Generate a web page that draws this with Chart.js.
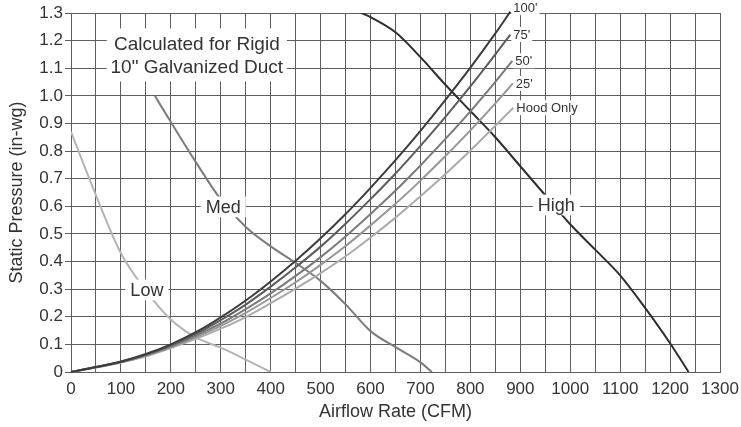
<!DOCTYPE html>
<html>
<head>
<meta charset="utf-8">
<script src="https://cdn.jsdelivr.net/npm/chart.js@4/dist/chart.umd.min.js"></script>
<style>
  html, body { margin: 0; padding: 0; background: #fff; }
  #wrap { width: 741px; height: 427px; }
</style>
</head>
<body>
<div id="wrap"><canvas id="c" width="741" height="427"></canvas></div>
<script>
// ---- Data ----
const ductCfm = [0,50,100,150,200,250,300,350,400,450,500,550,600,650,700,750,800,850];
const duct100 = [0,0.018,0.038,0.065,0.100,0.144,0.198,0.259,0.328,0.403,0.484,0.572,0.667,0.767,0.873,0.985,1.102,1.226];
const duct75  = [0,0.018,0.037,0.063,0.097,0.138,0.188,0.244,0.309,0.379,0.454,0.537,0.626,0.719,0.819,0.924,1.034,1.150];
const duct50  = [0,0.017,0.036,0.061,0.093,0.132,0.176,0.228,0.285,0.348,0.416,0.491,0.572,0.657,0.748,0.844,0.944,1.051];
const duct25  = [0,0.017,0.035,0.059,0.090,0.126,0.167,0.214,0.268,0.325,0.388,0.456,0.531,0.609,0.693,0.782,0.875,0.973];
const ductHood= [0,0.016,0.034,0.057,0.087,0.120,0.157,0.199,0.249,0.302,0.358,0.419,0.487,0.559,0.636,0.717,0.802,0.892];
const ductEndCfm = [880, 880, 884, 885, 886];
const ductEndVal = [1.305, 1.222, 1.127, 1.045, 0.957];
const ductNames = ["100'", "75'", "50'", "25'", "Hood Only"];

const lowCfm  = [0,50,100,150,200,250,300,350,400];
const lowVal  = [0.87,0.64,0.43,0.295,0.19,0.125,0.088,0.045,0];
const medCfm  = [168,200,250,300,350,400,450,500,550,600,650,700,723];
const medVal  = [1.0,0.905,0.76,0.625,0.525,0.455,0.395,0.33,0.245,0.148,0.09,0.035,0];
const highCfm = [582,600,650,700,750,800,850,900,950,1000,1050,1100,1150,1200,1237];
const highVal = [1.30,1.285,1.23,1.14,1.04,0.945,0.85,0.745,0.64,0.535,0.443,0.35,0.232,0.104,0];

const xTicks = [0,100,200,300,400,500,600,700,800,900,1000,1100,1200,1300];
const yTicks = ['0','0.1','0.2','0.3','0.4','0.5','0.6','0.7','0.8','0.9','1.0','1.1','1.2','1.3'];
const fanNames = ['Low', 'Med', 'High'];

// ---- Styles / label anchors ----
const ductColors = ['#3c3c3c', '#5c5c5c', '#7a7a7a', '#969696', '#ababab'];
const fanColors = ['#b4b4b4', '#7c7c7c', '#2f2f2f'];
const fanLabelAt = [[152, 0.297], [305, 0.598], [972, 0.605]];
const TXT = '#333';
const FONT = '"Liberation Sans", Arial, Helvetica, sans-serif';

function pts(xs, ys) { return xs.map((x, i) => ({ x: x, y: ys[i] })); }

const ductSeries = [duct100, duct75, duct50, duct25, ductHood];
const datasets = [];
ductSeries.forEach((vals, i) => {
  datasets.push({
    label: ductNames[i],
    data: pts(ductCfm.concat([ductEndCfm[i]]), vals.concat([ductEndVal[i]])),
    borderColor: ductColors[i], borderWidth: 2, pointRadius: 0,
    cubicInterpolationMode: 'monotone', clip: false
  });
});
[[lowCfm, lowVal], [medCfm, medVal], [highCfm, highVal]].forEach((s, i) => {
  datasets.push({
    label: fanNames[i],
    data: pts(s[0], s[1]),
    borderColor: fanColors[i], borderWidth: 2, pointRadius: 0,
    cubicInterpolationMode: 'monotone'
  });
});

const labelPlugin = {
  id: 'labels',
  afterDatasetsDraw(chart) {
    const { ctx, scales: { x, y } } = chart;
    ctx.save();
    ctx.textBaseline = 'middle';
    function box(text, px, py, size, align, padX) {
      ctx.font = size + 'px ' + FONT;
      const w = ctx.measureText(text).width;
      const h = size * 1.15;
      let left = align === 'left' ? px : px - w / 2 - padX;
      ctx.fillStyle = '#fff';
      ctx.fillRect(left, py - h / 2, w + 2 * padX, h);
      ctx.fillStyle = TXT;
      ctx.textAlign = 'left';
      ctx.fillText(text, left + padX, py + 1);
    }
    // duct labels at the end of each curve
    ductNames.forEach((n, i) => {
      const px = x.getPixelForValue(ductEndCfm[i]);
      let py = y.getPixelForValue(ductEndVal[i]);
      if (i === 0) py -= 4;
      box(n, px + 1, py, 13, 'left', 2);
    });
    // fan curve labels
    fanNames.forEach((n, i) => {
      box(n, x.getPixelForValue(fanLabelAt[i][0]), y.getPixelForValue(fanLabelAt[i][1]), 18, 'center', 5);
    });
    // annotation box
    const cx = x.getPixelForValue(252), cy = y.getPixelForValue(1.15);
    ctx.fillStyle = '#fff';
    ctx.fillRect(cx - 90, cy - 26, 180, 53);
    ctx.fillStyle = TXT;
    ctx.textAlign = 'center';
    ctx.font = '19px ' + FONT;
    ctx.fillText('Calculated for Rigid', cx, cy - 10);
    ctx.fillText('10" Galvanized Duct', cx, cy + 13);
    ctx.restore();
  }
};

const GRID = '#5e5e5e';
new Chart(document.getElementById('c'), {
  type: 'line',
  data: { datasets: datasets },
  plugins: [labelPlugin],
  options: {
    responsive: false,
    animation: false,
    layout: { padding: { top: 13, right: 21, left: 0, bottom: 0 } },
    plugins: { legend: { display: false }, tooltip: { enabled: false } },
    scales: {
      x: {
        type: 'linear', min: 0, max: 1300,
        afterBuildTicks(s) { s.ticks = []; for (let v = 0; v <= 1300; v += 50) s.ticks.push({ value: v }); },
        afterFit(s) { s.height = 55; s.paddingRight = 0; s.paddingLeft = 0; },
        ticks: {
          autoSkip: false, maxRotation: 0, minRotation: 0, padding: 7,
          color: TXT, font: { family: FONT, size: 17 },
          callback(v) { const k = xTicks.indexOf(v); return k >= 0 ? String(xTicks[k]) : ''; }
        },
        grid: { color: GRID, lineWidth: 1, drawTicks: false },
        border: { color: GRID },
        title: { display: true, text: 'Airflow Rate (CFM)', color: TXT, font: { family: FONT, size: 18 }, padding: { top: 0, bottom: 4 } }
      },
      y: {
        min: 0, max: 1.3,
        afterBuildTicks(s) { s.ticks = []; for (let k = 0; k <= 26; k++) s.ticks.push({ value: k * 0.05 }); },
        afterFit(s) { s.width = 71; },
        ticks: {
          padding: 2, color: TXT, font: { family: FONT, size: 17 },
          callback(v) { const k = Math.round(v * 20); return k % 2 === 0 ? yTicks[k / 2] : ''; }
        },
        grid: {
          color: GRID, lineWidth: 1, drawTicks: true, tickLength: 6,
          tickColor(c) { return c.tick && Math.round(c.tick.value * 20) % 2 === 0 ? GRID : 'rgba(0,0,0,0)'; }
        },
        border: { color: GRID },
        title: { display: true, text: 'Static Pressure (in-wg)', color: TXT, font: { family: FONT, size: 18 }, padding: { top: 6, bottom: 0 } }
      }
    }
  }
});
</script>
</body>
</html>
